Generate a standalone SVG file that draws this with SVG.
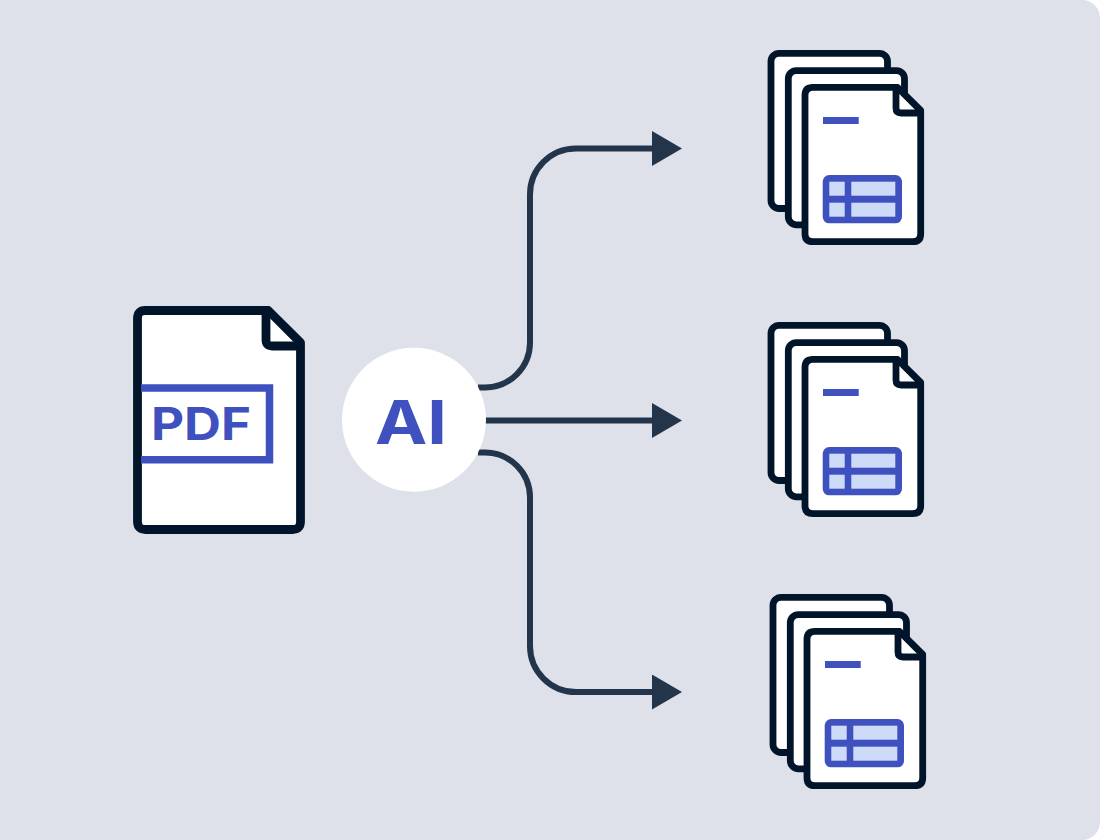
<svg xmlns="http://www.w3.org/2000/svg" width="1100" height="840" viewBox="0 0 1100 840">
<style>
.doc{fill:#fff;stroke:#001529;stroke-width:6.8;stroke-linejoin:round}
.conn{fill:none;stroke:#22354a;stroke-width:6}
.blue{fill:#3f51bf}
.cell{fill:#cddaf8}
.label{font-family:"Inter","Liberation Sans",sans-serif;font-weight:700;fill:#3f51bf}
</style>
<defs>
<marker id="arrow" markerUnits="userSpaceOnUse" markerWidth="30" markerHeight="35" refX="0" refY="17.5" orient="auto" viewBox="0 0 30 35">
<path d="M0 0L30 17.5L0 35Z" fill="#22354a"/>
</marker>
<g id="stack">
<rect class="doc" x="771" y="53.300" width="116.500" height="155.200" rx="8"/>
<rect class="doc" x="788.300" y="70.600" width="116.200" height="154.200" rx="8"/>
<path class="doc" d="M813 87.300H897.500L920.700 110.500V233.700Q920.700 241.700 912.700 241.700H813Q805 241.700 805 233.700V95.300Q805 87.300 813 87.300Z"/>
<path d="M896 87.300V108Q896 113 901 113H920.700" fill="none" stroke="#001529" stroke-width="6.800" stroke-linejoin="round"/>
<rect class="blue" x="823" y="117" width="35.700" height="7"/>
<rect class="blue" x="822.700" y="175" width="79.300" height="48.300" rx="6.500"/>
<rect class="cell" x="829.300" y="181.700" width="15.400" height="14"/>
<rect class="cell" x="851.300" y="181.700" width="44" height="14"/>
<rect class="cell" x="829.300" y="202.700" width="15.400" height="14"/>
<rect class="cell" x="851.300" y="202.700" width="44" height="14"/>
</g>
</defs>
<path id="background" d="M0 0H1082A18 18 0 0 1 1100 18V822A18 18 0 0 1 1082 840H0Z" fill="#dee1ea"/>
<g id="connectors">
<path class="conn" marker-end="url(#arrow)" d="M478 387.500H485A45 45 0 0 0 530 342.500V194.500A46 46 0 0 1 576 148.500H652"/>
<path class="conn" marker-end="url(#arrow)" d="M484 420.500H652"/>
<path class="conn" marker-end="url(#arrow)" d="M478 452.500H485A45 45 0 0 1 530 497.500V646A46 46 0 0 0 576 692H652"/>
</g>
<g id="pdf">
<path d="M145 310.500H268.300L300.500 342.700V521.500Q300.500 529.500 292.500 529.500H145.500Q137.500 529.500 137.500 521.500V318.500Q137.500 310.500 145 310.500Z" fill="#fff" stroke="#001529" stroke-width="8.800" stroke-linejoin="round"/>
<path d="M266 310.500V340Q266 346 272 346H300.500" fill="none" stroke="#001529" stroke-width="8.800" stroke-linejoin="round"/>
<path d="M141 388H269.500V459.700H141" fill="none" stroke="#3f51bf" stroke-width="7.500"/>
<text class="label" x="151" y="440" font-size="45" textLength="100" lengthAdjust="spacingAndGlyphs">PDF</text>
</g>
<g id="ai">
<circle cx="414" cy="419.700" r="72" fill="#fff"/>
<text class="label" x="375" y="444" font-size="61" textLength="72" lengthAdjust="spacingAndGlyphs">AI</text>
</g>
<g id="output-1"><use href="#stack"/></g>
<g id="output-2"><use href="#stack" y="272"/></g>
<g id="output-3"><use href="#stack" x="2" y="544"/></g>
</svg>
